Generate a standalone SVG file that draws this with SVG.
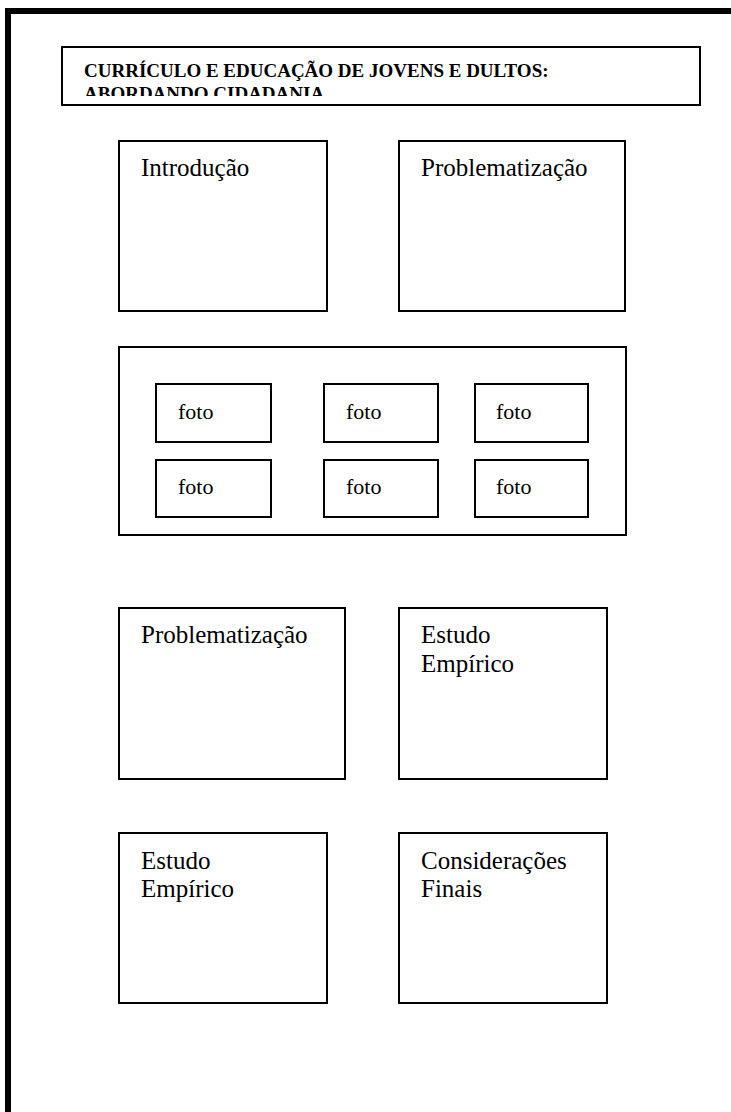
<svg xmlns="http://www.w3.org/2000/svg" width="731" height="1112" viewBox="0 0 731 1112">
<style>
.box{fill:#fff;stroke:#000;stroke-width:2}
.t{font-family:"Liberation Serif","Times New Roman",serif;font-size:25px;fill:#000}
.f{font-family:"Liberation Serif","Times New Roman",serif;font-size:22px;fill:#000}
.h{font-family:"Liberation Serif","Times New Roman",serif;font-size:19px;font-weight:bold;fill:#000}
</style>
<defs>
<clipPath id="titleClip"><rect x="63" y="48" width="636" height="48"/></clipPath>
</defs>
<rect width="731" height="1112" fill="#fff"/>
<g id="frame">
<path d="M8,1112 V11 H731" fill="none" stroke="#000" stroke-width="6"/>
</g>
<g id="title">
<rect class="box" x="62" y="47" width="638" height="58"/>
<g clip-path="url(#titleClip)">
<text class="h" x="84" y="77">CURRÍCULO E EDUCAÇÃO DE JOVENS E DULTOS:</text>
<text class="h" x="84" y="100">ABORDANDO CIDADANIA</text>
</g>
</g>
<g id="introducao">
<rect class="box" x="119" y="141" width="208" height="170"/>
<text class="t" x="141" y="176">Introdução</text>
</g>
<g id="problematizacao1">
<rect class="box" x="399" y="141" width="226" height="170"/>
<text class="t" x="421" y="176">Problematização</text>
</g>
<g id="fotos">
<rect class="box" x="119" y="347" width="507" height="188"/>
<g id="foto1"><rect class="box" x="156" y="384" width="115" height="58"/><text class="f" x="178" y="419">foto</text></g>
<g id="foto2"><rect class="box" x="324" y="384" width="114" height="58"/><text class="f" x="346" y="419">foto</text></g>
<g id="foto3"><rect class="box" x="475" y="384" width="113" height="58"/><text class="f" x="496" y="419">foto</text></g>
<g id="foto4"><rect class="box" x="156" y="460" width="115" height="57"/><text class="f" x="178" y="494">foto</text></g>
<g id="foto5"><rect class="box" x="324" y="460" width="114" height="57"/><text class="f" x="346" y="494">foto</text></g>
<g id="foto6"><rect class="box" x="475" y="460" width="113" height="57"/><text class="f" x="496" y="494">foto</text></g>
</g>
<g id="problematizacao2">
<rect class="box" x="119" y="608" width="226" height="171"/>
<text class="t" x="141" y="643">Problematização</text>
</g>
<g id="estudo1">
<rect class="box" x="399" y="608" width="208" height="171"/>
<text class="t" x="421" y="643">Estudo</text>
<text class="t" x="421" y="672">Empírico</text>
</g>
<g id="estudo2">
<rect class="box" x="119" y="833" width="208" height="170"/>
<text class="t" x="141" y="869">Estudo</text>
<text class="t" x="141" y="897">Empírico</text>
</g>
<g id="consideracoes">
<rect class="box" x="399" y="833" width="208" height="170"/>
<text class="t" x="421" y="869">Considerações</text>
<text class="t" x="421" y="897">Finais</text>
</g>
<g id="connectors"/>
</svg>
